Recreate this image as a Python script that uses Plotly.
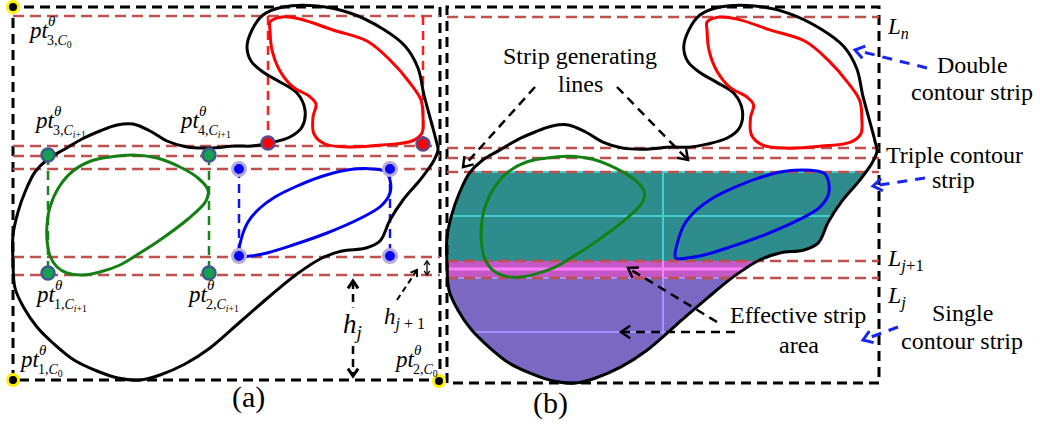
import math
import plotly.graph_objects as go

W, H = 1040, 427
FONT = "Liberation Serif"

# ---- panel frames (pixel space, y grows downward) ----
BOX_A = (13, 440, 7, 380)      # x0, x1, y0, y1
BOX_B = (447, 879, 7, 383)

# strip generating lines
STRIP_Y_A = [16, 146, 156, 169, 257, 275]
STRIP_Y_B = [17, 148, 158, 172, 261, 278]

# outer boundary contour C0 (panel a coordinates)
OUTER = [(283, 7), (317, 6), (350, 13), (383, 29), (405, 46), (418, 68), (424, 95),
         (431, 121), (436, 140), (438, 150), (433, 162), (420, 180), (403, 200),
         (390, 220), (380, 241), (366, 248), (342, 251), (322, 258), (297, 274),
         (270, 296), (240, 322), (210, 348), (185, 364), (160, 375), (140, 380),
         (118, 378), (97, 371), (74, 360), (54, 344), (37, 327), (24, 308), (15, 288),
         (13, 262), (13, 235), (18, 212), (25, 192), (35, 172), (48, 159), (65, 149),
         (82, 139), (100, 131), (117, 125), (133, 124), (150, 131), (167, 141),
         (187, 147), (210, 148), (235, 146), (252, 146), (270, 143), (290, 137),
         (302, 127), (305, 110), (297, 93), (280, 82), (263, 72), (251, 61), (247, 47),
         (252, 30), (263, 15), (283, 7)]

# inner contours
RED = [(270, 22), (282, 17), (300, 19), (333, 30), (367, 41), (390, 60), (410, 83),
       (421, 100), (423, 117), (422, 133), (412, 141), (383, 145), (350, 147), (325, 144),
       (314, 134), (313, 117), (316, 104), (309, 96), (293, 87), (280, 71), (272, 50),
       (270, 30), (270, 22)]
GREEN = [(110, 157), (133, 155), (157, 158), (180, 167), (198, 178), (208, 190),
         (206, 201), (188, 219), (160, 240), (140, 253), (120, 265), (100, 272),
         (83, 275), (67, 273), (57, 267), (50, 256), (47, 240), (47, 225), (50, 207),
         (59, 187), (73, 171), (91, 161), (110, 157)]
BLUE = [(239, 256), (241, 240), (248, 222), (260, 208), (275, 197), (295, 187),
        (320, 177), (347, 170), (373, 169), (386, 172), (390, 180), (390, 193),
        (381, 206), (361, 218), (327, 233), (293, 245), (267, 253), (250, 256), (239, 256)]

# projection lines of the contour extreme points in panel (a)
RED_VERT = [(268, 16, 143), (423, 16, 144)]
GREEN_VERT = [(48, 156, 273), (209, 156, 273)]
BLUE_VERT = [(239, 169, 256), (390, 169, 256)]

RED_PTS = [(268, 143), (423, 144)]
GREEN_PTS = [(48, 155), (209, 155), (48, 273), (209, 273)]
BLUE_PTS = [(239, 169), (390, 169), (239, 256), (390, 256)]
CORNER_PTS = [(13, 7), (13, 380), (439, 381)]

# strip bands in panel (b)
TEAL_BAND = (172, 261)
MAGENTA_BAND = (261, 278)
PURPLE_BAND = (278, 400)
TEAL_LINE_Y = [172, 216]
PINK_LINE_Y = 269
LAVENDER_LINE_Y = [278, 332]
GRID_X = 663

fig = go.Figure()


def add_line(pts, color, width, dash="solid", shape="linear"):
    fig.add_trace(go.Scatter(
        x=[p[0] for p in pts], y=[p[1] for p in pts],
        mode="lines", line=dict(color=color, width=width, dash=dash, shape=shape),
        hoverinfo="skip", showlegend=False))


def add_fill(pts, color):
    fig.add_trace(go.Scatter(
        x=[p[0] for p in pts], y=[p[1] for p in pts], mode="lines", fill="toself",
        fillcolor=color, line=dict(width=0, color=color), hoverinfo="skip", showlegend=False))


def to_b(pts):
    """Map shapes from the panel (a) frame into the panel (b) frame."""
    ax0, ax1, ay0, ay1 = BOX_A
    bx0, bx1, by0, by1 = BOX_B
    sx = (bx1 - bx0) / (ax1 - ax0)
    sy = (by1 - by0) / (ay1 - ay0)
    return [(bx0 + (x - ax0) * sx, by0 + (y - ay0) * sy) for x, y in pts]


def clip_half(poly, y0, keep_greater):
    def inside(p):
        return p[1] >= y0 if keep_greater else p[1] <= y0

    def cut(a, b):
        t = (y0 - a[1]) / (b[1] - a[1])
        return (a[0] + t * (b[0] - a[0]), y0)

    out = []
    for i in range(len(poly)):
        cur, prev = poly[i], poly[i - 1]
        if inside(cur):
            if not inside(prev):
                out.append(cut(prev, cur))
            out.append(cur)
        elif inside(prev):
            out.append(cut(prev, cur))
    return out


def band(poly, lo, hi):
    return clip_half(clip_half(poly, lo, True), hi, False)


def h_span(poly, y):
    xs = []
    for i in range(len(poly)):
        a, b = poly[i - 1], poly[i]
        if a[1] != b[1] and (y - a[1]) * (y - b[1]) <= 0:
            xs.append(a[0] + (y - a[1]) * (b[0] - a[0]) / (b[1] - a[1]))
    return min(xs), max(xs)


def v_bottom(poly, x):
    ys = []
    for i in range(len(poly)):
        a, b = poly[i - 1], poly[i]
        if a[0] != b[0] and (x - a[0]) * (x - b[0]) <= 0:
            ys.append(a[1] + (x - a[0]) * (b[1] - a[1]) / (b[0] - a[0]))
    return max(ys)


def arrow(p0, p1, color, width, dash, head=9, both=False, head_w=None):
    add_line([p0, p1], color, width, dash)
    hw = head_w or width

    def chevron(tip, frm):
        ux, uy = tip[0] - frm[0], tip[1] - frm[1]
        n = math.hypot(ux, uy)
        ux, uy = ux / n, uy / n
        pts = []
        for ang in (0.6, -0.6):
            c, s = math.cos(ang), math.sin(ang)
            rx, ry = ux * c - uy * s, ux * s + uy * c
            pts.append((tip[0] - head * rx, tip[1] - head * ry))
        add_line([pts[0], tip, pts[1]], color, hw)

    chevron(p1, p0)
    if both:
        chevron(p0, p1)


# ---- panel (b): filled strips ----
outer_b = to_b(OUTER)[:-1]
add_fill(band(outer_b, *TEAL_BAND), "rgb(46,140,140)")
add_fill(band(outer_b, *MAGENTA_BAND), "rgb(196,88,196)")
add_fill(band(outer_b, *PURPLE_BAND), "rgb(123,104,194)")

for y in TEAL_LINE_Y:
    x0, x1 = h_span(outer_b, y + 0.5)
    add_line([(x0, y), (x1, y)], "rgb(70,205,205)", 2)
x0, x1 = h_span(outer_b, PINK_LINE_Y)
add_line([(x0, PINK_LINE_Y), (x1, PINK_LINE_Y)], "rgb(255,125,255)", 3)
for y in LAVENDER_LINE_Y:
    x0, x1 = h_span(outer_b, y)
    add_line([(x0, y), (x1, y)], "rgb(165,145,255)", 2)
add_line([(GRID_X, TEAL_BAND[0]), (GRID_X, TEAL_BAND[1])], "rgb(70,205,205)", 2)
add_line([(GRID_X, MAGENTA_BAND[0]), (GRID_X, MAGENTA_BAND[1])], "rgb(255,125,255)", 2)
add_line([(GRID_X, PURPLE_BAND[0]), (GRID_X, v_bottom(outer_b, GRID_X))], "rgb(165,145,255)", 2)

# ---- frames ----
BLACK_DASH = "10px,6px"
RED_DASH = "11px,6px"
for (x0, x1, y0, y1) in (BOX_A, BOX_B):
    add_line([(x0, y1), (x0, y0), (x1, y0), (x1, y1), (x0, y1)], "black", 3, BLACK_DASH)

# ---- strip generating lines ----
for y in STRIP_Y_A:
    add_line([(BOX_A[0], y), (BOX_A[1], y)], "rgb(192,80,77)", 2.5, RED_DASH)
for y in STRIP_Y_B:
    add_line([(BOX_B[0], y), (BOX_B[1], y)], "rgb(192,80,77)", 2.5, RED_DASH)

# ---- extreme point projections (a) ----
for verts, col in ((RED_VERT, "rgb(255,30,30)"), (GREEN_VERT, "rgb(30,130,30)"),
                   (BLUE_VERT, "rgb(20,20,240)")):
    for x, y0, y1 in verts:
        add_line([(x, y0), (x, y1)], col, 2.5, "9px,6px")

# ---- contours ----
for mapper in (lambda p: p, to_b):
    add_line(mapper(OUTER), "black", 3, shape="spline")
    add_line(mapper(RED), "rgb(255,0,0)", 3, shape="spline")
    add_line(mapper(GREEN), "rgb(20,128,20)", 3, shape="spline")
    add_line(mapper(BLUE), "rgb(0,0,240)", 3, shape="spline")

# ---- arrows ----
arrow((353, 281), (353, 376), "black", 2.5, "8px,5px", head=9, both=True, head_w=3)
arrow((397, 300), (417, 270), "black", 2, "6px,4px", head=7)
arrow((427, 261), (427, 275), "black", 1.3, "solid", head=5, both=True)
arrow((535, 87), (463, 167), "black", 2.5, "9px,6px", head=11)
arrow((617, 87), (688, 160), "black", 2.5, "9px,6px", head=11)
arrow((717, 322), (628, 268), "black", 2.5, "9px,6px", head=11)
arrow((735, 332), (621, 332), "black", 2.5, "9px,6px", head=11)
arrow((927, 68), (855, 50), "rgb(20,40,240)", 3, "10px,8px", head=11)
arrow((925, 178), (873, 186), "rgb(20,40,240)", 3, "10px,8px", head=11)
arrow((898, 327), (863, 340), "rgb(20,40,240)", 3, "10px,8px", head=11)


# ---- points ----
def dots(pts, fill, edge, size=13, lw=2.5):
    fig.add_trace(go.Scatter(
        x=[p[0] for p in pts], y=[p[1] for p in pts], mode="markers",
        marker=dict(size=size, color=fill, line=dict(color=edge, width=lw)),
        hoverinfo="skip", showlegend=False))


dots(GREEN_PTS, "rgb(20,160,80)", "rgb(60,90,140)")
dots(RED_PTS, "rgb(255,0,0)", "rgb(90,75,140)")
dots(BLUE_PTS, "rgb(0,0,255)", "rgb(185,170,215)", lw=3)
dots(CORNER_PTS, "black", "rgb(255,240,0)", size=11, lw=3)

# ---- text ----
ann = []


def text(x, y, s, size, anchor="center", bg=None):
    a = dict(x=x, y=y, text=s, showarrow=False, xanchor=anchor, yanchor="middle",
             font=dict(family=FONT, size=size, color="black"))
    if bg:
        a["bgcolor"] = bg
    ann.append(a)


# point labels: (pt left x, pt baseline y, subscript)
PT_LABELS = [
    (26, 38, "3,<i>C</i><sub>0</sub>"),
    (32, 128, "3,<i>C</i><sub><i>i</i>+1</sub>"),
    (177, 128, "4,<i>C</i><sub><i>i</i>+1</sub>"),
    (33, 302, "1,<i>C</i><sub><i>i</i>+1</sub>"),
    (185, 302, "2,<i>C</i><sub><i>i</i>+1</sub>"),
    (17, 367, "1,<i>C</i><sub>0</sub>"),
    (392, 367, "2,<i>C</i><sub>0</sub>"),
]
for x, b, sub in PT_LABELS:
    text(x, b - 8, "<i>pt</i>", 23, "left")
    text(x + 20, b - 17, "<i>θ</i>", 15, "left")
    text(x + 19, b + 3, sub, 14, "left")

text(341, 326, "<i>h<sub>j</sub></i>", 27, "left", bg="white")
text(382, 318, "<i>h</i><sub><i>j</i> + 1</sub>", 23, "left")
text(248, 397, "(a)", 30)
text(550, 403, "(b)", 30)

text(885, 28, "<i>L<sub>n</sub></i>", 23, "left")
text(885, 260, "<i>L<sub>j</sub></i><sub>+1</sub>", 24, "left")
text(885, 297, "<i>L<sub>j</sub></i>", 24, "left")

CAPTIONS = [
    (580, 56, "Strip generating"), (580, 84, "lines"),
    (972, 65, "Double"), (972, 92, "contour strip"),
    (954, 155, "Triple contour"), (953, 180, "strip"),
    (962, 313, "Single"), (962, 341, "contour strip"),
    (798, 315, "Effective strip"), (799, 345, "area"),
]
for x, y, s in CAPTIONS:
    text(x, y, s, 24)

fig.update_layout(
    width=W, height=H, margin=dict(l=0, r=0, t=0, b=0),
    paper_bgcolor="white", plot_bgcolor="white", annotations=ann,
    xaxis=dict(range=[0, W], visible=False, fixedrange=True),
    yaxis=dict(range=[H, 0], visible=False, fixedrange=True),
)
fig.write_html("out.html")
